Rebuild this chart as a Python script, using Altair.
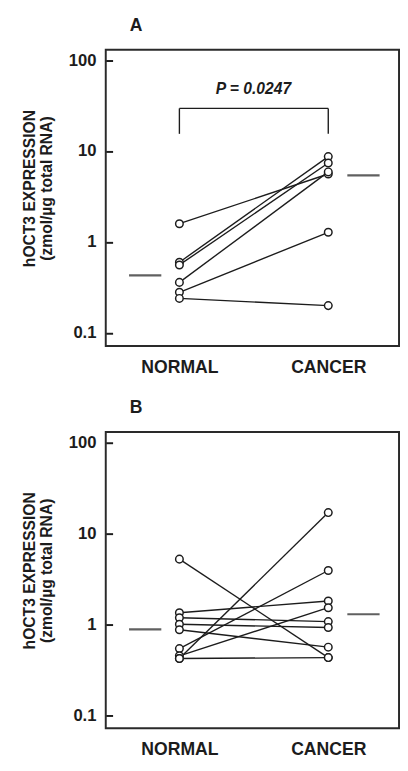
import altair as alt
import pandas as pd

# ---------------- data ----------------
groups = ["NORMAL", "CANCER"]

# Panel A: paired samples (normal -> cancer), zmol/ug total RNA
a_normal = [1.59, 0.60, 0.56, 0.36, 0.28, 0.24]
a_cancer = [5.6, 8.7, 7.4, 5.9, 1.28, 0.20]
a_means = [0.43, 5.4]

# Panel B: paired samples (normal -> cancer)
b_normal = [5.2, 1.34, 1.18, 1.0, 0.87, 0.54, 0.45, 0.42, 0.42]
b_cancer = [0.43, 1.8, 1.07, 0.92, 0.56, 3.9, 1.52, 16.9, 0.43]
b_means = [0.88, 1.29]

y_ticks = [0.1, 1, 10, 100]
y_title = ["hOCT3 EXPRESSION", "(zmol/\u00b5g total RNA)"]
p_label = "P = 0.0247"

# ---------------- styling ----------------
FONT = "Liberation Sans"
INK = "#1c1c1c"
W, H = 300, 303
TICK = 7


def long_df(normal, cancer):
    rows = []
    for i, (n, c) in enumerate(zip(normal, cancer)):
        rows.append({"pair": i, "group": "NORMAL", "value": n})
        rows.append({"pair": i, "group": "CANCER", "value": c})
    return pd.DataFrame(rows)


x_scale = alt.Scale(type="point", domain=groups, padding=0.485, align=0.51)
y_scale = alt.Scale(type="log", domain=[0.072, 130], nice=False)

x_enc = alt.X(
    "group:N",
    scale=x_scale,
    sort=groups,
    axis=alt.Axis(
        title=None, labelAngle=0, ticks=False, tickSize=0, domain=False,
        labelFont=FONT, labelFontSize=18, labelFontWeight="bold",
        labelPadding=13, labelColor=INK, labelBaseline="top",
    ),
)
# axis pulled inside the frame by TICK px so that its ticks point inward
y_enc = alt.Y(
    "value:Q",
    scale=y_scale,
    axis=alt.Axis(
        values=y_ticks, format="~g", offset=-TICK, ticks=True, tickSize=TICK,
        tickWidth=2, tickColor=INK, domain=False, zindex=1,
        grid=False, labelFont=FONT, labelFontSize=17, labelFontWeight="bold",
        labelPadding=10, labelColor=INK,
        title=y_title, titleFont=FONT, titleFontSize=16, titleFontWeight="bold",
        titleColor=INK, titlePadding=14, titleLineHeight=18, titleY=H / 2 - 10,
    ),
)


def panel(letter, normal, cancer, means, with_p):
    df = long_df(normal, cancer)
    base = alt.Chart(df)
    lines = base.mark_line(color=INK, strokeWidth=1.4).encode(
        x=x_enc, y=y_enc, detail="pair:N"
    )
    pts = base.mark_point(
        shape="circle", filled=True, fill="white", stroke=INK,
        strokeWidth=1.5, size=60, opacity=1,
    ).encode(x=x_enc, y=y_enc)

    mean_df = pd.DataFrame({"group": groups, "value": means})
    mean_n = (
        alt.Chart(mean_df)
        .transform_filter(alt.datum.group == "NORMAL")
        .mark_tick(orient="horizontal", size=33, thickness=2.2, color=INK, xOffset=-35)
        .encode(x=x_enc, y=y_enc)
    )
    mean_c = (
        alt.Chart(mean_df)
        .transform_filter(alt.datum.group == "CANCER")
        .mark_tick(orient="horizontal", size=33, thickness=2.2, color=INK, xOffset=36)
        .encode(x=x_enc, y=y_enc)
    )

    letter_df = pd.DataFrame({"t": [letter]})
    title = alt.Chart(letter_df).mark_text(
        font=FONT, fontSize=18, fontWeight="bold", color=INK,
        align="center", baseline="middle",
    ).encode(text="t:N", x=alt.value(31), y=alt.value(-24))

    layers = [lines, mean_n, mean_c, pts, title]

    if with_p:
        br_df = pd.DataFrame({"group": groups})
        br_h = alt.Chart(br_df).mark_line(color=INK, strokeWidth=1.4).encode(
            x=x_enc, y=alt.value(60)
        )
        br_v = alt.Chart(br_df).mark_rule(color=INK, strokeWidth=1.4).encode(
            x=x_enc, y=alt.value(60), y2=alt.value(86)
        )
        p_df = pd.DataFrame({"t": [p_label]})
        p_txt = alt.Chart(p_df).mark_text(
            font=FONT, fontSize=16, fontWeight="bold", fontStyle="italic",
            color=INK, align="center", baseline="middle",
        ).encode(text="t:N", x=alt.value(W / 2 + 1), y=alt.value(40))
        layers += [br_h, br_v, p_txt]

    return alt.layer(*layers).properties(width=W, height=H)


chart_a = panel("A", a_normal, a_cancer, a_means, True)
chart_b = panel("B", b_normal, b_cancer, b_means, False)

chart = (
    alt.vconcat(chart_a, chart_b, spacing=88, bounds="flush")
    .properties(padding={"left": 12, "top": 0, "right": 0, "bottom": 0}, background="white")
    .configure_view(stroke="#2a2a2a", strokeWidth=2)
)

chart.save("out.html", embed_options={"renderer": "svg", "actions": False})
